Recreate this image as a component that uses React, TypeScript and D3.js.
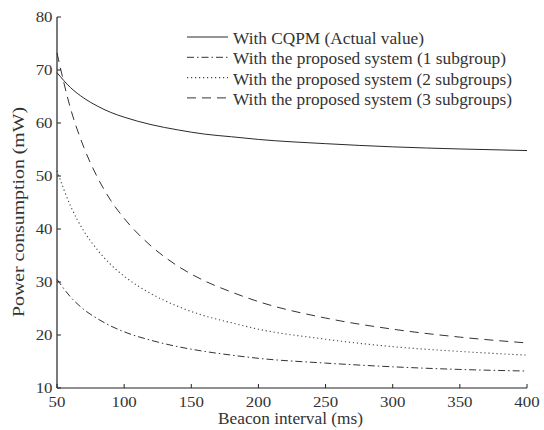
import React from "react";
import * as d3 from "d3";

const xValues = [50, 60, 70, 80, 90, 100, 120, 140, 160, 180, 200, 250, 300, 350, 400];
const cqpm = [69.5, 66.7, 64.7, 63.2, 62.0, 61.1, 59.7, 58.7, 57.9, 57.4, 56.9, 56.1, 55.5, 55.1, 54.8];
const sub1 = [30.5, 27.2, 24.8, 23.1, 21.7, 20.6, 19.0, 17.8, 16.9, 16.2, 15.6, 14.7, 14.0, 13.5, 13.2];
const sub2 = [51.0, 44.4, 39.6, 36.1, 33.3, 31.1, 27.8, 25.4, 23.6, 22.3, 21.1, 19.2, 17.8, 16.9, 16.2];
const sub3 = [73.2, 62.8, 55.4, 49.8, 45.4, 42.0, 36.8, 33.0, 30.2, 28.1, 26.3, 23.2, 21.1, 19.6, 18.5];

const xTicks = [50, 100, 150, 200, 250, 300, 350, 400];
const yTicks = [10, 20, 30, 40, 50, 60, 70, 80];

const seriesNames = [
  "With CQPM (Actual value)",
  "With the proposed system (1 subgroup)",
  "With the proposed system (2 subgroups)",
  "With the proposed system (3 subgroups)",
];
const seriesData = [cqpm, sub1, sub2, sub3];

const styles = [
  { dash: "none", color: "#2a2a2a", width: 1 },
  { dash: "7,3,1.5,3", color: "#333", width: 1 },
  { dash: "1.2,2.8", color: "#444", width: 1.1 },
  { dash: "9,6", color: "#333", width: 1 },
];
const legendWidths = [191, 273, 279, 279];

const FONT = "Liberation Serif";
const SX = 1.14;
const tStyle = { fontFamily: FONT };
const TXT = "#333";

export default function App() {
  const x = d3.scaleLinear().domain([50, 400]).range([57, 527]);
  const y = d3.scaleLinear().domain([10, 80]).range([388, 17]);
  const line = d3
    .line<number>()
    .x((_, i) => x(xValues[i]))
    .y((d) => y(d))
    .curve(d3.curveMonotoneX);

  return (
    <svg
      width={544}
      height={430}
      style={{ position: "absolute", left: 0, top: 0, background: "#fff" }}
    >
      <rect x={0} y={0} width={544} height={430} fill="#fff" />
      {seriesData.map((s, i) => (
        <path
          key={i}
          d={line(s) || ""}
          fill="none"
          stroke={styles[i].color}
          strokeWidth={styles[i].width}
          strokeDasharray={styles[i].dash}
        />
      ))}
      <line x1={57} x2={57} y1={y(80)} y2={y(10)} stroke="#222" strokeWidth={1.2} />
      <line x1={x(50)} x2={x(400)} y1={388} y2={388} stroke="#222" strokeWidth={1.2} />
      {yTicks.map((t) => (
        <g key={"y" + t}>
          <line x1={57} x2={61} y1={y(t)} y2={y(t)} stroke="#222" />
          <g transform={`translate(52.5,${y(t) + 5}) scale(${SX},1)`}>
            <text textAnchor="end" fontSize={14.8} fill={TXT} style={tStyle}>
              {t}
            </text>
          </g>
        </g>
      ))}
      {xTicks.map((t) => (
        <g key={"x" + t}>
          <line x1={x(t)} x2={x(t)} y1={388} y2={384} stroke="#222" />
          <g transform={`translate(${x(t)},407) scale(${SX},1)`}>
            <text textAnchor="middle" fontSize={14.8} fill={TXT} style={tStyle}>
              {t}
            </text>
          </g>
        </g>
      ))}
      <text
        x={218}
        y={424}
        fontSize={16.5}
        fill={TXT}
        style={tStyle}
        textLength={145}
        lengthAdjust="spacingAndGlyphs"
      >
        Beacon interval (ms)
      </text>
      <g transform="translate(24,317) rotate(-90)">
        <text
          x={0}
          y={0}
          fontSize={16}
          fill={TXT}
          style={tStyle}
          textLength={210}
          lengthAdjust="spacingAndGlyphs"
        >
          Power consumption (mW)
        </text>
      </g>
      {seriesNames.map((n, i) => {
        const cy = 37 + i * 20.3;
        return (
          <g key={"l" + i}>
            <line
              x1={187}
              x2={228}
              y1={cy}
              y2={cy}
              stroke={styles[i].color}
              strokeWidth={styles[i].width}
              strokeDasharray={styles[i].dash}
            />
            <text
              x={233}
              y={cy + 7}
              fontSize={17.5}
              fill={TXT}
              style={tStyle}
              textLength={legendWidths[i]}
              lengthAdjust="spacingAndGlyphs"
            >
              {n}
            </text>
          </g>
        );
      })}
    </svg>
  );
}
